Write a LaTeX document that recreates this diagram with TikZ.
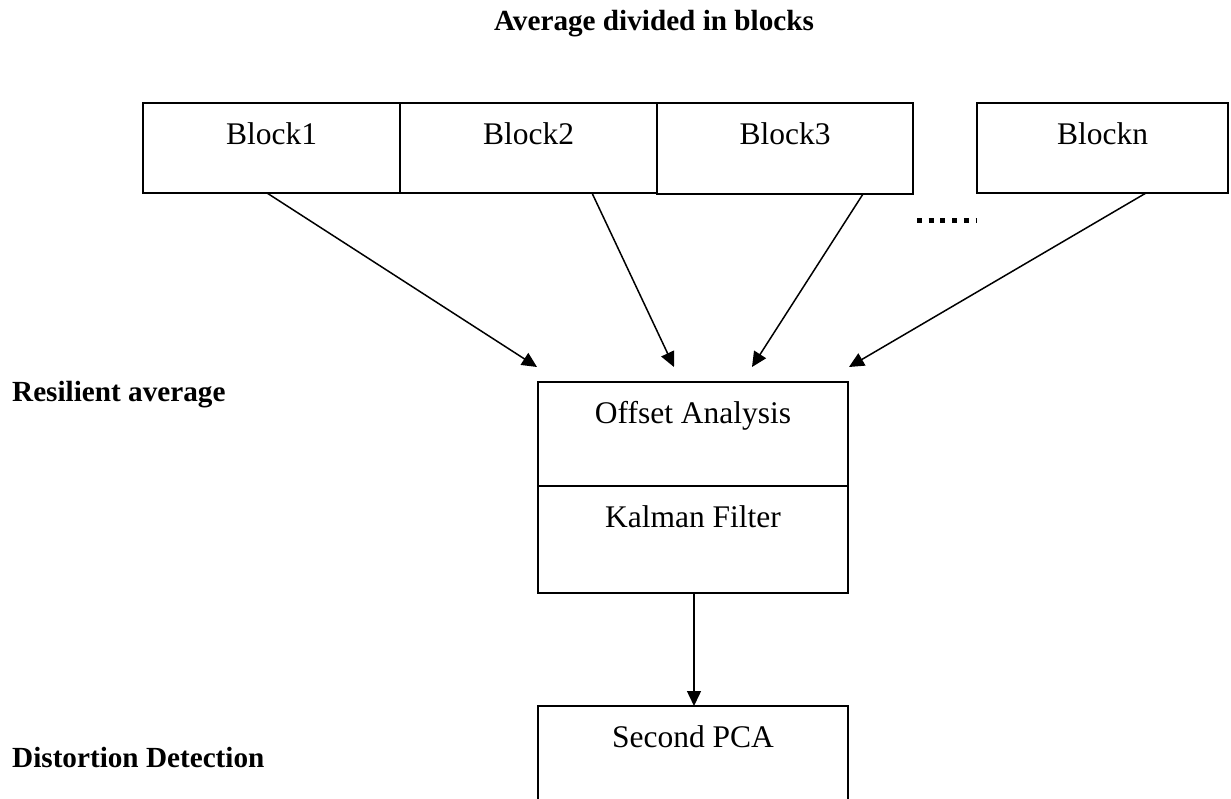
\documentclass[tikz,border=0pt]{standalone}
\usepackage{fontspec}
\setmainfont{Liberation Serif}
\usetikzlibrary{arrows.meta}
\tikzset{
  blk/.style={draw, line width=1.8pt, inner xsep=0pt, inner ysep=0pt, outer sep=0pt,
    anchor=north west, font=\fontsize{31.5}{36}\selectfont,
    text height=42pt, text depth=48pt},
  stage/.style={draw, line width=1.8pt, inner xsep=0pt, inner ysep=0pt, outer sep=0pt,
    anchor=north west, font=\fontsize{31.5}{36}\selectfont,
    minimum width=310pt, text height=41pt},
  lbl/.style={font=\bfseries\fontsize{29.2}{34}\selectfont, inner sep=0pt},
  conn/.style={line width=1.5pt, -{Triangle[length=15pt,width=14pt]}},
  dots/.style={line width=5pt, dash pattern=on 5pt off 6.7pt}
}
\begin{document}
\begin{tikzpicture}[x=1pt,y=-1pt]
\useasboundingbox (0,0) rectangle (1231,799);
\clip (0,0) rectangle (1231,799);
\fill[white] (0,0) rectangle (1231,799);

% labels
\node[lbl, anchor=base] (title) at (654,31) {Average divided in blocks};
\node[lbl, anchor=base west] (resil) at (12,401) {Resilient average};
\node[lbl, anchor=base west] (dist) at (12,767) {Distortion Detection};

% blocks
\node[blk, minimum width=257pt] (b1) at (143,103) {Block1};
\node[blk, minimum width=257pt] (b2) at (400,103) {Block2};
\node[blk, minimum width=256pt, text depth=49pt] (b3) at (657,103) {Block3};
\node[blk, minimum width=251pt] (bn) at (977,103) {Blockn};

% ellipsis
\coordinate (d1) at (917,221);
\coordinate (d2) at (977,221);
\draw[dots] (d1) -- (d2);

% stages
\node[stage, text depth=63pt] (off) at (538,382) {Offset Analysis};
\node[stage, text depth=66pt] (kal) at (538,486) {Kalman Filter};
\node[stage, text depth=150pt] (pca) at (538,706) {Second PCA};

% connectors
\draw[conn] ([xshift=-4.5pt]b1.south) -- ([shift={(-1pt,15pt)}]off.north west);
\draw[conn] ([xshift=63.5pt]b2.south) -- ([shift={(-19pt,15pt)}]off.north);
\draw[conn] ([xshift=78pt]b3.south) -- ([shift={(59pt,15pt)}]off.north);
\draw[conn] ([xshift=43.5pt]bn.south) -- ([shift={(1pt,15pt)}]off.north east);
\draw[conn] ([xshift=1pt]kal.south) -- ([xshift=1pt]pca.north);
\end{tikzpicture}
\end{document}
